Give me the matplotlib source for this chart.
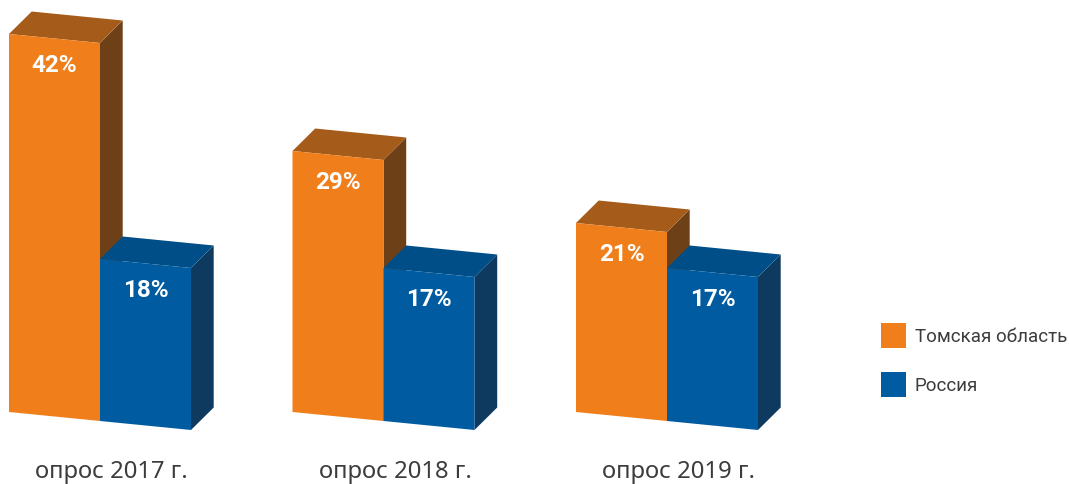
import matplotlib
matplotlib.use("Agg")
import matplotlib.pyplot as plt
from matplotlib.patches import Polygon, Rectangle

# Values
surveys = ["опрос 2017 г.", "опрос 2018 г.", "опрос 2019 г."]
series_names = ["Томская область", "Россия"]
tomsk = [42, 29, 21]
russia = [18, 17, 17]

# Layout in pixels
group_left = [9, 292.5, 576]
bar_w = 91
floor_y = 412
slope = 9.0 / 91
px_per_percent = 9.0
depth_x = 22.7
depth_y = -22.5

# front, top and side colours
orange = ("#F07F1B", "#A55C1B", "#6D4017")
blue = ("#005BA0", "#004E87", "#0E3A60")


def draw_bar(ax, left, start, value, colors, z):
    right = left + bar_w
    bottom_l = floor_y + (left - start) * slope
    bottom_r = bottom_l + bar_w * slope
    h = value * px_per_percent
    top_l = bottom_l - h
    top_r = bottom_r - h
    front = [(left, bottom_l), (right, bottom_r), (right, top_r), (left, top_l)]
    top = [(left, top_l), (right, top_r), (right + depth_x, top_r + depth_y), (left + depth_x, top_l + depth_y)]
    side = [(right, bottom_r), (right + depth_x, bottom_r + depth_y), (right + depth_x, top_r + depth_y), (right, top_r)]
    ax.add_patch(Polygon(side, closed=True, fc=colors[2], ec="none", zorder=z))
    ax.add_patch(Polygon(top, closed=True, fc=colors[1], ec="none", zorder=z))
    ax.add_patch(Polygon(front, closed=True, fc=colors[0], ec="none", zorder=z + 0.5))
    ax.text(left + bar_w / 2, (top_l + top_r) / 2 + 27, f"{value}%", color="white", ha="center", va="center",
            fontsize=17.5, fontweight="bold", family="Roboto", zorder=z + 1)


fig = plt.figure(figsize=(10.69, 4.84), dpi=100)
ax = fig.add_axes([0, 0, 1, 1])
ax.set_xlim(0, 1069)
ax.set_ylim(484, 0)
ax.axis("off")

for i in range(len(surveys)):
    draw_bar(ax, group_left[i], group_left[i], tomsk[i], orange, 2)
    draw_bar(ax, group_left[i] + bar_w, group_left[i], russia[i], blue, 3)
    ax.text(group_left[i] + 102.5, 472.5, surveys[i], ha="center", va="center", fontsize=17.2,
            color="#3C3C3C", family="Noto Sans")

# Legend
legend_y = [323, 372]
for name, y, c in zip(series_names, legend_y, [orange[0], blue[0]]):
    ax.add_patch(Rectangle((881, y), 25, 25, fc=c, ec="none"))
    ax.text(915, y + 14, name, ha="left", va="center", fontsize=13.5, color="#3C3C3C", family="Roboto")

fig.savefig("out.png", dpi=100)
plt.close(fig)
